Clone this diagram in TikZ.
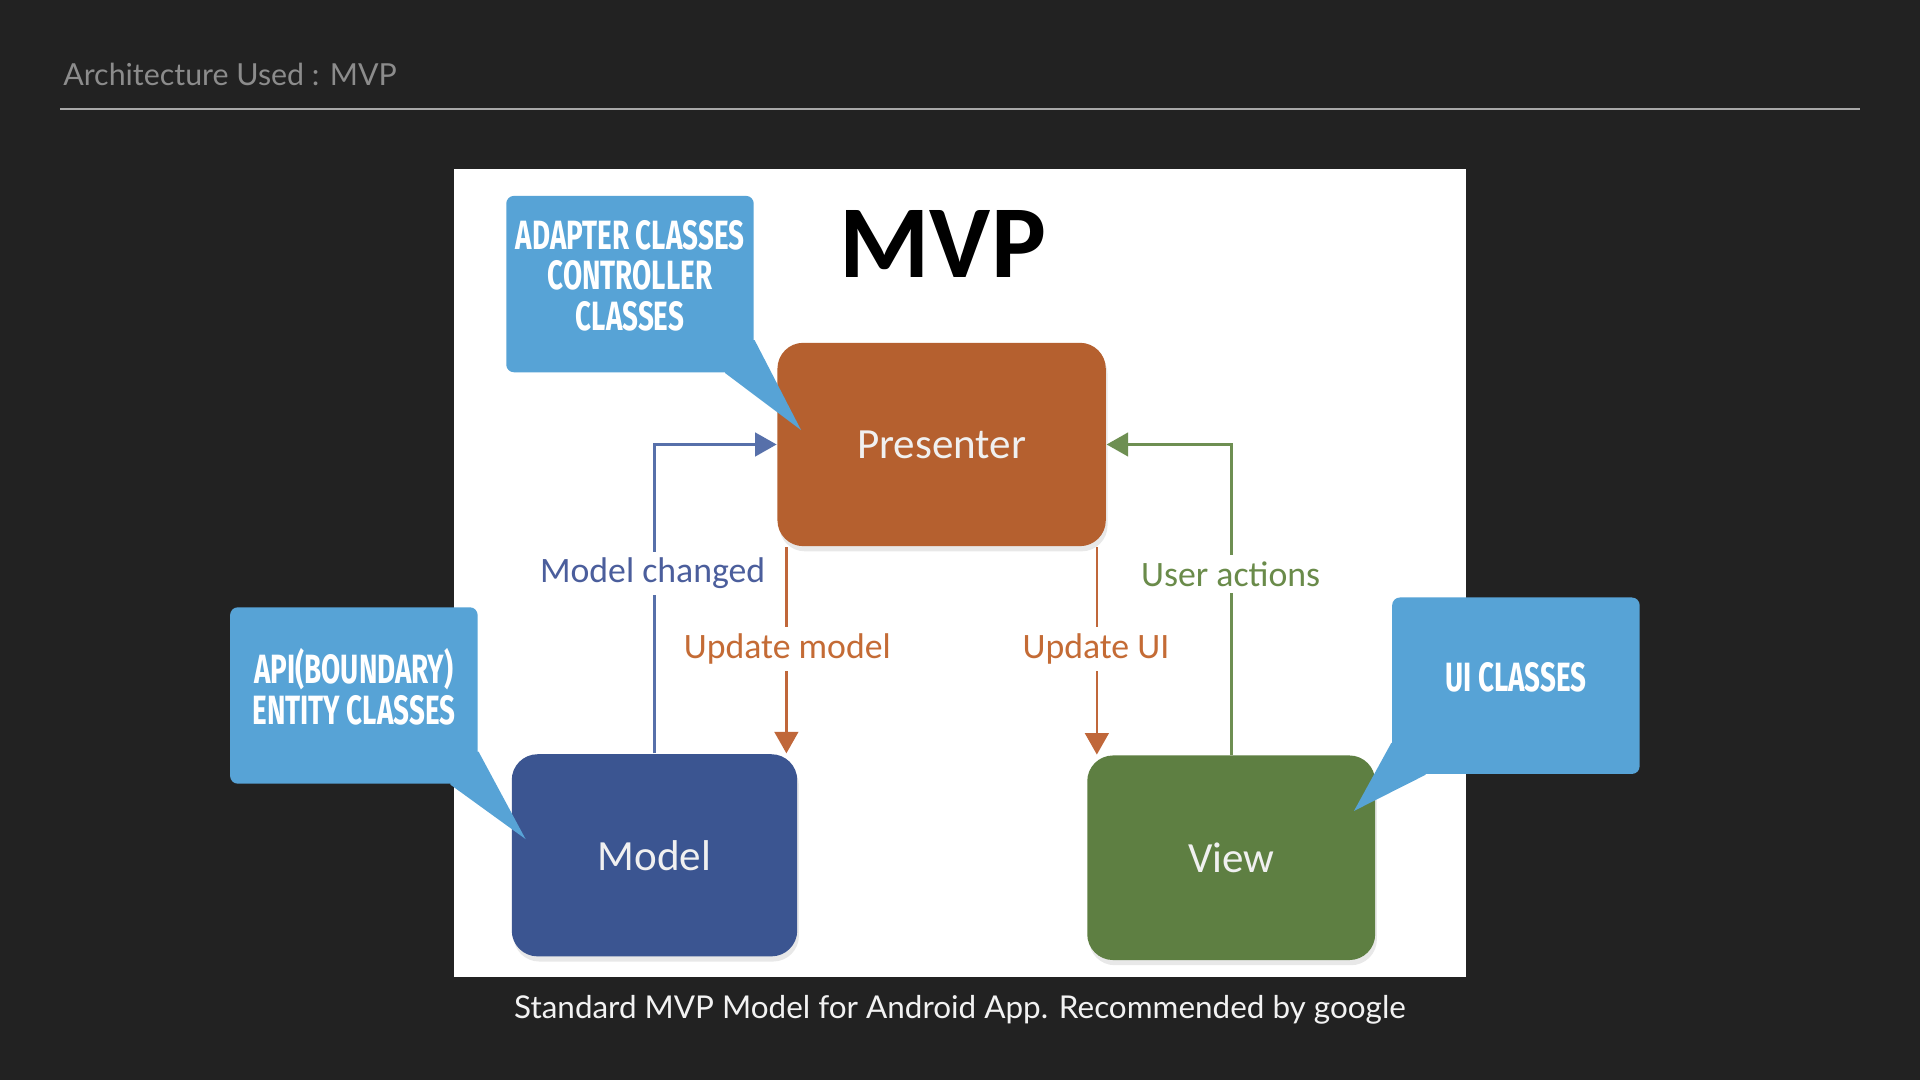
\documentclass[tikz,border=0pt]{standalone}
\usepackage{fontspec}
\setmainfont{Carlito}
\newfontfamily\titlefont{Lato}
\newfontfamily\condfont[FakeStretch=0.68]{Fira Sans}
\usetikzlibrary{positioning,calc,arrows.meta,shadows}

\definecolor{slidebg}{HTML}{222222}
\definecolor{titlegray}{HTML}{8C8C8C}
\definecolor{rulegray}{HTML}{A8A8A8}
\definecolor{presenterfill}{HTML}{B5602F}
\definecolor{modelfill}{HTML}{3B5591}
\definecolor{viewfill}{HTML}{5E7F42}
\definecolor{calloutblue}{HTML}{57A3D6}
\definecolor{lblblue}{HTML}{4B5E9C}
\definecolor{lblorange}{HTML}{C46B35}
\definecolor{lblgreen}{HTML}{6A8B4A}
\definecolor{lineblue}{HTML}{5770AA}
\definecolor{lineorange}{HTML}{C0673A}
\definecolor{linegreen}{HTML}{6E8F52}

\begin{document}
\begin{tikzpicture}[
    x=0.01cm, y=-0.01cm,
    box/.style={rectangle, rounded corners=6pt, inner sep=0pt, text=white!94!black,
        font=\fontsize{10}{12}\selectfont,
        drop shadow={opacity=0.18, shadow xshift=0.4pt, shadow yshift=-1.2pt}},
    callout/.style={rectangle, rounded corners=1.8pt, fill=calloutblue, inner sep=0pt,
        minimum width=2.02cm, minimum height=1.44cm},
    callouttext/.style={align=center, text=white, inner sep=0pt,
        font=\condfont\bfseries\fontsize{9.5}{9.4}\selectfont},
    lbl/.style={fill=white, inner sep=1.5pt, anchor=base,
        font=\fontsize{8.3}{10}\selectfont},
    flow/.style={line width=0.6pt, -{Triangle[length=5pt, width=5.5pt]}}
]
% slide
\fill[slidebg] (0,0) rectangle (1568,882);
\node[anchor=base west, inner sep=0pt, text=titlegray, font=\titlefont\fontsize{7.05}{9}\selectfont]
    (title) at (51,70) {Architecture Used : MVP};
\draw[rulegray, line width=0.45pt] (49,89) -- (1519,89);
\fill[white] (371,138) rectangle (1197,798);
\node[anchor=base, inner sep=0pt, text=white!95!black, font=\titlefont\fontsize{7.3}{9}\selectfont]
    (caption) at (784,832) {Standard MVP Model for Android App. Recommended by google};

% diagram
\node[font=\bfseries\fontsize{24}{28}\selectfont, inner sep=0pt] (mvp) at (770,199) {MVP};
\node[box, fill=presenterfill, minimum width=2.68cm, minimum height=1.66cm]
    (presenter) at (769,363) {Presenter};
\node[box, fill=modelfill, minimum width=2.33cm, minimum height=1.65cm]
    (model) at (534.5,698.5) {Model};
\node[box, fill=viewfill, minimum width=2.35cm, minimum height=1.67cm]
    (view) at (1005.5,700.5) {View};

\coordinate (pm) at ($(presenter.south west)+(8,0)$);
\coordinate (pu) at ($(presenter.south east)+(-8,0)$);
\draw[flow, lineblue] (model.north) |- (presenter.west);
\draw[flow, linegreen] (view.north) |- (presenter.east);
\draw[flow, lineorange] (pm) -- (pm |- model.north);
\draw[flow, lineorange] (pu) -- (pu |- view.north);

\node[lbl, text=lblblue] (changed) at (533,476) {Model changed};
\node[lbl, text=lblgreen] (actions) at (1005,479) {User actions};
\node[lbl, text=lblorange] (updmodel) at (643,538) {Update model};
\node[lbl, text=lblorange] (updui) at (895,538) {Update UI};

% callouts
\node[callout] (adapter) at (514.5,232) {};
\fill[calloutblue] ($(adapter.south east)+(-24,0)$) -- ($(presenter.north west)+(20,72)$)
    -- ($(adapter.south east)+(0,-27)$) -- ($(adapter.south east)+(-10,-27)$)
    -- ($(adapter.south east)+(-24,-10)$) -- cycle;
\node[callouttext] at ($(adapter)+(0,-7)$) {ADAPTER CLASSES\\CONTROLLER\\CLASSES};

\node[callout] (api) at (289,568) {};
\fill[calloutblue] ($(api.south east)+(-23,0)$) -- ($(model.north west)+(12,70)$)
    -- ($(api.south east)+(0,-27)$) -- ($(api.south east)+(-10,-27)$)
    -- ($(api.south east)+(-23,-10)$) -- cycle;
\node[callouttext] at ($(api)+(0,-7)$) {API(BOUNDARY)\\ENTITY CLASSES};

\node[callout] (uicls) at (1238,560) {};
\fill[calloutblue] ($(uicls.south west)+(28,0)$) -- ($(view.north east)+(-18,46)$)
    -- ($(uicls.south west)+(0,-26)$) -- ($(uicls.south west)+(10,-26)$)
    -- ($(uicls.south west)+(28,-10)$) -- cycle;
\node[callouttext] at ($(uicls)+(0,-7)$) {UI CLASSES};
\end{tikzpicture}
\end{document}
